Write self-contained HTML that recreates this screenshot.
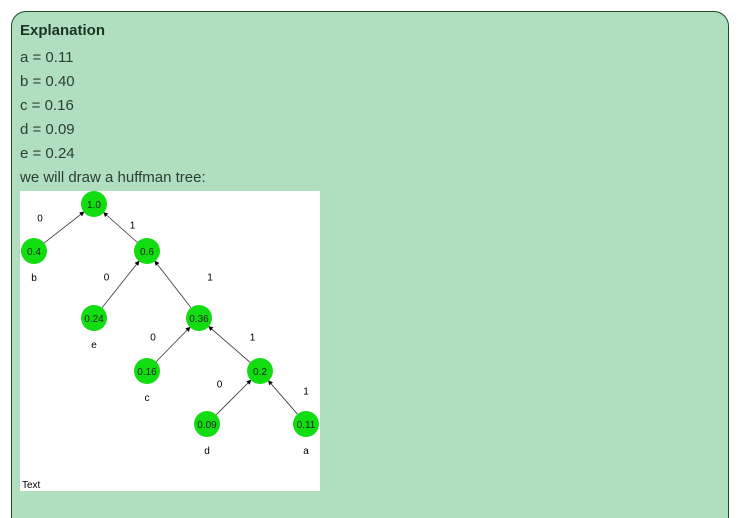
<!DOCTYPE html>
<html><head><meta charset="utf-8"><style>
html,body{margin:0;width:740px;height:517px;overflow:hidden;background:#fff;font-family:"Liberation Sans",sans-serif}
#card{position:absolute;left:11px;top:11px;width:716px;height:506px;background:#b0dfc0;border:1px solid #1f4d2a;border-bottom:none;border-radius:15px 15px 0 0}
.t{position:absolute;left:20px;font-size:15px;color:#2d3e33;line-height:18px}
#tree{position:absolute;left:20px;top:191px}
</style></head><body>
<div id="card"></div>
<div class="t" style="top:22px;font-weight:bold;color:#1c3322">Explanation</div>
<div class="t" style="top:49px">a = 0.11</div>
<div class="t" style="top:73px">b = 0.40</div>
<div class="t" style="top:97px">c = 0.16</div>
<div class="t" style="top:121px">d = 0.09</div>
<div class="t" style="top:145px">e = 0.24</div>
<div class="t" style="top:169px">we will draw a huffman tree:</div>
<svg id="tree" width="300" height="300">
<defs><marker id="ar" markerWidth="6" markerHeight="6" refX="5" refY="3" orient="auto"><path d="M0,0L6,3L0,6z" fill="#000"/></marker></defs>
<rect width="300" height="300" fill="#fff"/>
</svg>
<script>
const nodeLabels=["1.0","0.4","0.6","0.24","0.36","0.16","0.2","0.09","0.11"];
const nodeX=[74,14,127,74,179,127,240,187,286];
const nodeY=[13,60,60,127,127,180,180,233,233];
const parents=[-1,0,0,2,2,4,4,6,6];
const edgeBits=["","0","1","0","1","0","1","0","1"];
const leafNames=["","b","","e","","c","","d","a"];
const bitOffX=[0,-24,12,-14,37,-20,23,-14,23];
const bitOffY=[0,-10,-3,-8,-8,-8,-8,-14,-7];
const svg=document.getElementById('tree');
const NS="http://www.w3.org/2000/svg";
function mk(t,a){const e=document.createElementNS(NS,t);for(const k in a)e.setAttribute(k,a[k]);svg.appendChild(e);return e;}
const R=13;
for(let i=0;i<nodeLabels.length;i++){const p=parents[i];if(p<0)continue;
 const dx=nodeX[p]-nodeX[i],dy=nodeY[p]-nodeY[i],L=Math.hypot(dx,dy);
 const l=mk('line',{x1:nodeX[i]+dx/L*R,y1:nodeY[i]+dy/L*R,x2:nodeX[p]-dx/L*R,y2:nodeY[p]-dy/L*R,stroke:'#333','stroke-width':0.8,'marker-end':'url(#ar)'});
 
 
 const mx=(nodeX[i]+nodeX[p])/2,my=(nodeY[i]+nodeY[p])/2;
 const bt=mk('text',{x:mx+bitOffX[i],y:my+bitOffY[i]+4,'font-size':10,'text-anchor':'middle',fill:'#000'});bt.textContent=edgeBits[i];
 
 
}
for(let i=0;i<nodeLabels.length;i++){
 const c=mk('circle',{cx:nodeX[i],cy:nodeY[i],r:R,fill:'#11dd11'});
 
 
 const t=mk('text',{x:nodeX[i],y:nodeY[i]+4,'font-size':10,'text-anchor':'middle',fill:'#222'});t.textContent=nodeLabels[i];
 
 
 if(leafNames[i]){const s=mk('text',{x:nodeX[i],y:nodeY[i]+30,'font-size':10,'text-anchor':'middle',fill:'#000'});s.textContent=leafNames[i];
 
 }
}
const tx=mk('text',{x:2,y:297,'font-size':10,fill:'#000'});tx.textContent="Text";


</script>
</body></html>
